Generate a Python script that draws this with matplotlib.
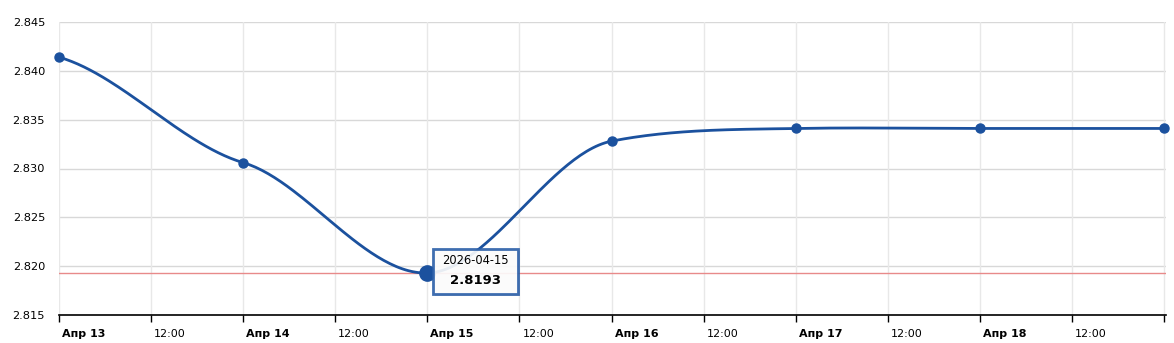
import numpy as np
import matplotlib
matplotlib.use("Agg")
import matplotlib.pyplot as plt
from matplotlib.patches import FancyBboxPatch

# daily rates, Apr 13 .. Apr 19
days = [0, 1, 2, 3, 4, 5, 6]
rates = [2.8414, 2.8306, 2.8193, 2.8328, 2.8341, 2.8341, 2.8341]
y_ticks = [2.815, 2.820, 2.825, 2.830, 2.835, 2.840, 2.845]
x_tick_labels = ["Апр 13", "12:00", "Апр 14", "12:00", "Апр 15", "12:00",
                 "Апр 16", "12:00", "Апр 17", "12:00", "Апр 18", "12:00", ""]
hover_date = "2026-04-15"
hover_idx = 2

LINE = "#1b519e"


def smooth_line(xs, ys, tension=0.5):
    # cardinal spline through the points
    xs = np.asarray(xs, float)
    ys = np.asarray(ys, float)
    n = len(xs)
    m = np.zeros(n)
    for i in range(n):
        if i == 0:
            m[i] = (ys[1] - ys[0]) / (xs[1] - xs[0])
        elif i == n - 1:
            m[i] = (ys[-1] - ys[-2]) / (xs[-1] - xs[-2])
        else:
            m[i] = (ys[i + 1] - ys[i - 1]) / (xs[i + 1] - xs[i - 1])
    m *= (1 - tension)
    px, py = [], []
    t = np.linspace(0, 1, 60)
    for i in range(n - 1):
        h = xs[i + 1] - xs[i]
        h00 = 2 * t ** 3 - 3 * t ** 2 + 1
        h10 = t ** 3 - 2 * t ** 2 + t
        h01 = -2 * t ** 3 + 3 * t ** 2
        h11 = t ** 3 - t ** 2
        px.append(xs[i] + h * t)
        py.append(h00 * ys[i] + h10 * h * m[i] + h01 * ys[i + 1] + h11 * h * m[i + 1])
    return np.concatenate(px), np.concatenate(py)


fig = plt.figure(figsize=(11.74, 3.43), dpi=100)
ax = fig.add_axes([59 / 1174, 28 / 343, 1107 / 1174, 293 / 343])

ax.set_xlim(0, 6.01)
ax.set_ylim(2.815, 2.845)

for v in y_ticks:
    ax.axhline(v, color="#d8d8d8", lw=1, zorder=0)
xt = np.arange(0, 6.01, 0.5)
for v in xt:
    ax.axvline(v, color="#e8e8e8", lw=1, zorder=0)

ax.axhline(rates[hover_idx], color="#e88a8a", lw=1, zorder=1)

sx, sy = smooth_line(days, rates)
ax.plot(sx, sy, color=LINE, lw=2, zorder=3, solid_capstyle="round")
ax.plot(days, rates, "o", color=LINE, ms=6.5, zorder=4, clip_on=False)
ax.plot(days[hover_idx], rates[hover_idx], "o", color=LINE, ms=11, zorder=5)

for s in ["top", "right", "left"]:
    ax.spines[s].set_visible(False)
ax.spines["bottom"].set_color("black")
ax.spines["bottom"].set_linewidth(1.2)

ax.set_yticks(y_ticks)
ax.set_yticklabels(["%.3f" % v for v in y_ticks], fontsize=8.2)
ax.tick_params(axis="y", length=0, pad=10)

ax.set_xticks(xt)
ax.set_xticklabels(x_tick_labels, fontsize=8, ha="left")
ax.tick_params(axis="x", length=5, width=1, color="black", pad=5)
for lbl in ax.get_xticklabels():
    lbl.set_transform(lbl.get_transform() +
                      matplotlib.transforms.ScaledTranslation(3 / 100, 0, fig.dpi_scale_trans))
    if lbl.get_text().startswith("Апр"):
        lbl.set_fontweight("bold")

# tooltip
box = FancyBboxPatch((433 / 1174, (343 - 294) / 343), 85 / 1174, 45 / 343,
                     boxstyle="square,pad=0", transform=fig.transFigure,
                     facecolor="white", edgecolor="#2a5ea8", lw=2,
                     alpha=0.9, zorder=10)
shadow = FancyBboxPatch((435 / 1174, (343 - 296) / 343), 85 / 1174, 45 / 343,
                        boxstyle="square,pad=0", transform=fig.transFigure,
                        facecolor="#00000022", edgecolor="none", zorder=9)
fig.patches.append(shadow)
fig.patches.append(box)
fig.text(475.5 / 1174, 1 - 261 / 343, hover_date, ha="center", va="center",
         fontsize=8.3, zorder=11)
fig.text(475.5 / 1174, 1 - 281 / 343, "%.4f" % rates[hover_idx], ha="center",
         va="center", fontsize=9.5, fontweight="bold", zorder=11)

fig.savefig("out.png", dpi=100)
